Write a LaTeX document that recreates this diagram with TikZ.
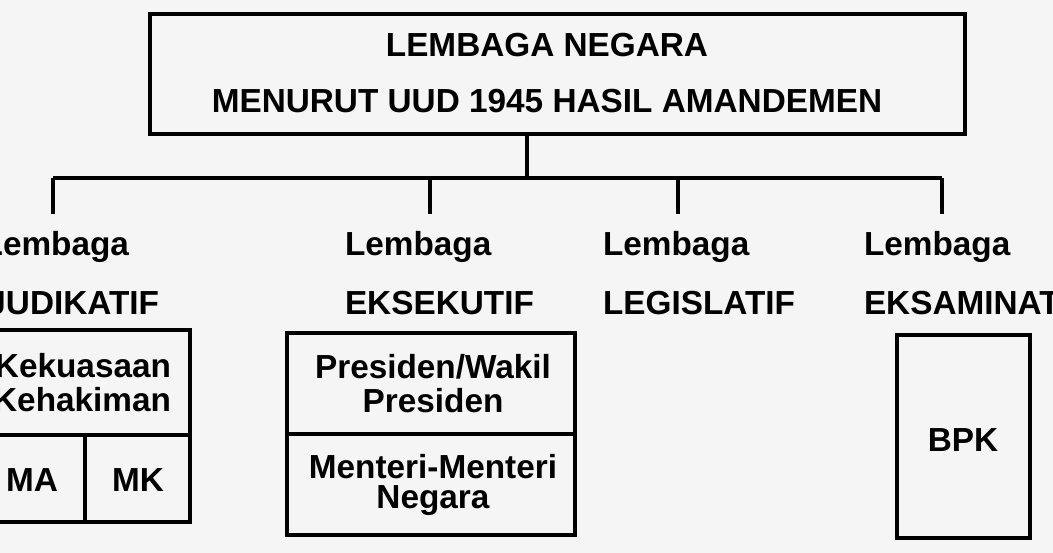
\documentclass[tikz,border=0pt]{standalone}
\usepackage{fontspec}
\setmainfont{Liberation Sans}
\begin{document}
\begin{tikzpicture}[x=0.75pt,y=-0.75pt,line width=3pt,
  txt/.style={font=\bfseries\fontsize{25}{30}\selectfont,inner sep=0pt},
  bx/.style={draw,inner sep=0pt}]
\fill[white!96!black] (0,0) rectangle (1053,553);
\useasboundingbox (0,0) rectangle (1053,553);
\clip (0,0) rectangle (1053,553);
\node[bx,minimum width=815*0.75pt,minimum height=120*0.75pt] (top) at (557.5,74) {};
\node[txt] (t1) at (547,45) {LEMBAGA NEGARA};
\node[txt] (t2) at (547,101) {MENURUT UUD 1945 HASIL AMANDEMEN};
\coordinate (j) at (527,178);
\coordinate (a) at (53,178); \coordinate (b) at (430,178);
\coordinate (c) at (678,178); \coordinate (d) at (942,178);
\coordinate (a2) at (53,214); \coordinate (b2) at (430,214);
\coordinate (c2) at (678,214); \coordinate (d2) at (942,214);
\draw (top.south -| j) -- (j);
\draw (a) -- (d);
\draw (a) -- (a2); \draw (b) -- (b2); \draw (c) -- (c2); \draw (d) -- (d2);
% labels
\node[txt,anchor=east] (l1) at (131,247) {Lembaga};
\node[txt,anchor=east] (l1b) at (161,303) {JUDIKATIF};
\node[txt,anchor=west] (l2) at (343,247) {Lembaga};
\node[txt,anchor=west] (l2b) at (343,303) {EKSEKUTIF};
\node[txt,anchor=west] (l3) at (601,247) {Lembaga};
\node[txt,anchor=west] (l3b) at (601,303) {LEGISLATIF};
\node[txt,anchor=west] (l4) at (862,247) {Lembaga};
\node[txt,anchor=west] (l4b) at (862,303) {EKSAMINATIF};
% yudikatif box
\coordinate (y1) at (-20,330); \coordinate (y2) at (190,522);
\draw (y1) rectangle (y2);
\coordinate (ym1) at (-20,435); \coordinate (ym2) at (190,435);
\draw (ym1) -- (ym2);
\coordinate (yv1) at (85,435); \coordinate (yv2) at (85,522);
\draw (yv1) -- (yv2);
\node[txt,anchor=east] (k1) at (173,366) {Kekuasaan};
\node[txt,anchor=east] (k2) at (173,400) {Kehakiman};
\node[txt] (ma) at (32,480) {MA};
\node[txt] (mk) at (138,480) {MK};
% eksekutif box
\coordinate (e1) at (287,333); \coordinate (e2) at (575,535);
\draw (e1) rectangle (e2);
\coordinate (em1) at (287,434); \coordinate (em2) at (575,434);
\draw (em1) -- (em2);
\node[txt] (p1) at (433,367) {Presiden/Wakil};
\node[txt] (p2) at (433,401) {Presiden};
\node[txt] (m1) at (433,467) {Menteri-Menteri};
\node[txt] (m2) at (433,501) {Negara};
% BPK
\node[bx,minimum width=133*0.75pt,minimum height=203*0.75pt] (bpkbox) at (963.5,436.5) {};
\node[txt] (bpk) at (963,440) {BPK};
\end{tikzpicture}
\end{document}
